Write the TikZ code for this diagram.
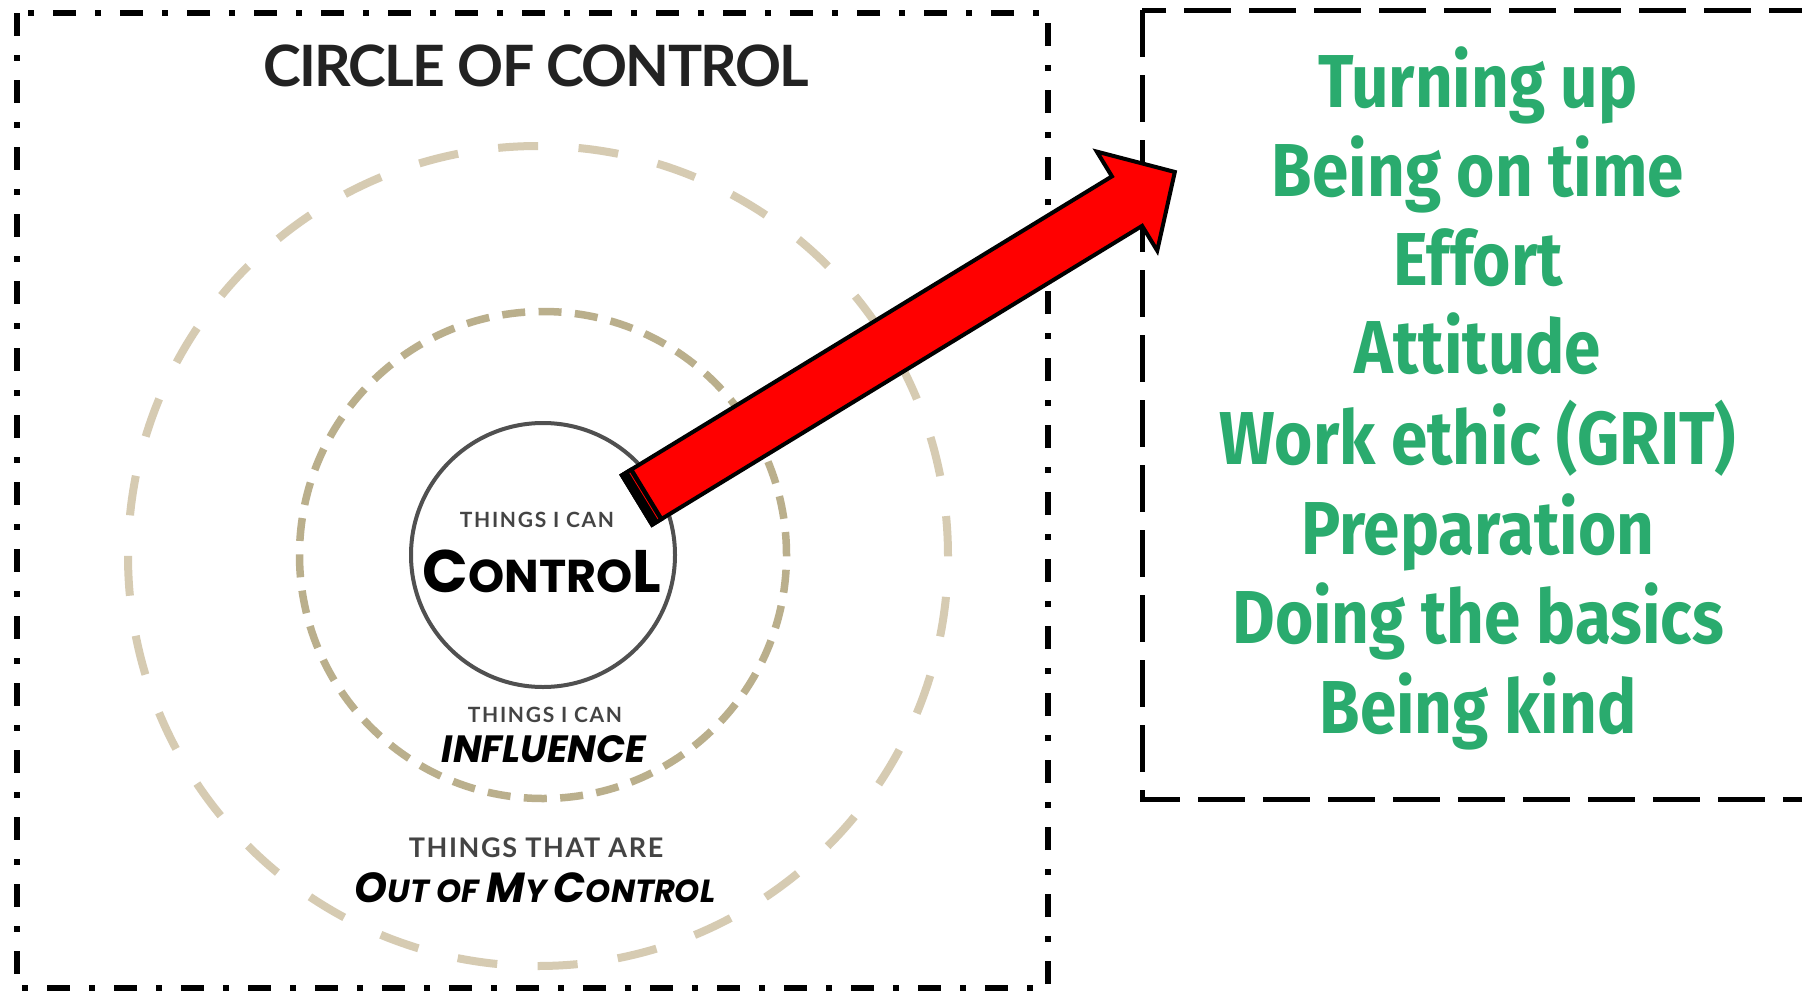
\documentclass[tikz,border=0pt]{standalone}
\usepackage{fontspec}
\setmainfont{Lato}
\newfontfamily\latofont{Lato}
\newfontfamily\handfont{Poppins}
\newfontfamily\greenfont{Fira Sans}[FakeStretch=0.875]
\usetikzlibrary{calc}
\definecolor{tgreen}{RGB}{42,171,110}
\definecolor{khaki}{RGB}{186,175,140}
\definecolor{lightkhaki}{RGB}{214,203,178}
\definecolor{ringgray}{RGB}{80,80,80}
\definecolor{titlegray}{RGB}{34,34,34}
\definecolor{smallgray}{RGB}{68,68,68}
\definecolor{arrowred}{RGB}{255,0,0}
\begin{document}
\begin{tikzpicture}[x=1pt,y=-1pt,
  lbl/.style={inner sep=0pt, outer sep=0pt, anchor=base},
  greenline/.style={lbl, text=tgreen, font={\greenfont\bfseries\fontsize{75}{80}\selectfont}},
  smalllbl/.style={lbl, text=smallgray, font={\latofont\bfseries\fontsize{21}{24}\selectfont\addfontfeatures{LetterSpace=8}}},
  handlbl/.style={lbl, text=black, font={\handfont\bfseries}},
  leftboxstyle/.style={draw=black, line width=6, dash pattern=on 23 off 19 on 6 off 19},
  rightboxstyle/.style={draw=black, line width=5, dash pattern=on 47 off 18},
  ringstyle/.style={circle, draw=ringgray, line width=4, inner sep=0pt, outer sep=0pt},
  innerring/.style={circle, draw=khaki, line width=7.5, dash pattern=on 23 off 13.4, inner sep=0pt, outer sep=0pt},
  outerring/.style={circle, draw=lightkhaki, line width=8, dash pattern=on 40 off 40.5, inner sep=0pt, outer sep=0pt},
  blockarrow/.style={draw=black, line width=4, fill=arrowred}
]
\useasboundingbox (0,0) rectangle (1802,993);
\fill[white] (0,0) rectangle (1802,993);
\begin{scope}
\clip (0,0) rectangle (1802,993);

% boxes
\draw[leftboxstyle] (17,13) rectangle (1048,988);
\draw[rightboxstyle] (1142,10) rectangle (1860,799);

% rings
\node[outerring, minimum size=820] (outc) at (538,556) {};
\node[innerring, minimum size=487] (infl) at (543,555) {};
\node[ringstyle, minimum size=264] (ctl) at (543,555) {};

% title
\node[lbl, text=titlegray, font={\latofont\bfseries\fontsize{57}{60}\selectfont\addfontfeatures{LetterSpace=-3}}] (title) at (536,86) {CIRCLE OF CONTROL};

% circle labels
\node[smalllbl] (t1) at (537,527) {THINGS I CAN};
\node[handlbl] (w1) at (542,592) {{\fontsize{60}{60}\selectfont C}{\fontsize{46}{46}\selectfont ONTRO}{\fontsize{60}{60}\selectfont L}};
\node[smalllbl] (t2) at (545,722) {THINGS I CAN};
\node[handlbl, font={\handfont\bfseries\itshape\fontsize{38}{38}\selectfont}] (w2) at (544,762) {INFLUENCE};
\node[smalllbl, font={\latofont\bfseries\fontsize{27}{30}\selectfont\addfontfeatures{LetterSpace=6}}] (t3) at (536,857) {THINGS THAT ARE};
\node[handlbl, font={\handfont\bfseries\itshape}] (w3) at (535,902) {{\fontsize{42}{42}\selectfont O}{\fontsize{32}{32}\selectfont UT OF }{\fontsize{42}{42}\selectfont M}{\fontsize{32}{32}\selectfont Y }{\fontsize{42}{42}\selectfont C}{\fontsize{32}{32}\selectfont ONTROL}};

% arrow
\coordinate (atail) at (637,500);
\coordinate (atip) at (1178,170);
\begin{scope}[shift={(atail)}, rotate=31.38]
  \draw[blockarrow] (0,-29) -- (574,-29) -- (574,-58) -- (630,0) -- (574,58) -- (574,29) -- (0,29) -- cycle;
  \fill[black] (-2,-31) rectangle (13,31);
  \draw[arrowred, line width=0.8] (8,-27) -- (8,27);
\end{scope}

% green list
\node[greenline] (g1) at (1478,107) {Turning up};
\node[greenline] (g2) at (1478,196) {Being on time};
\node[greenline] (g3) at (1478,285) {Effort};
\node[greenline] (g4) at (1478,373) {Attitude};
\node[greenline] (g5) at (1478,464) {Work ethic (GRIT)};
\node[greenline] (g6) at (1478,554) {Preparation};
\node[greenline] (g7) at (1478,643) {Doing the basics};
\node[greenline] (g8) at (1478,733) {Being kind};
\end{scope}
\end{tikzpicture}
\end{document}
